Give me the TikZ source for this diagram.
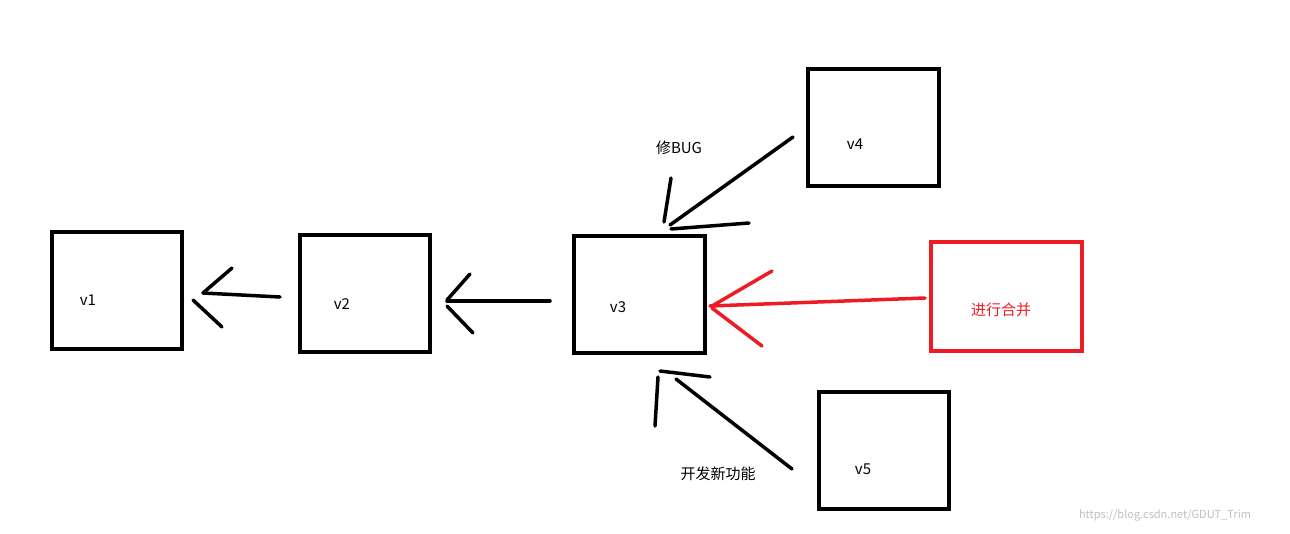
\documentclass[tikz,border=0pt]{standalone}
\usepackage{fontspec}
\setmainfont{Noto Sans CJK SC}
\definecolor{pred}{RGB}{237,28,36}
\begin{document}
\begin{tikzpicture}[x=1pt,y=-1pt,
  box/.style={draw=black,line width=3.5pt},
  stroke/.style={draw=black,line width=3.5pt,line cap=round},
  lbl/.style={font=\fontsize{15}{18}\selectfont,inner sep=0pt}]
\useasboundingbox[fill=white] (0,0) rectangle (1290,533);
\draw[box] (52,232) rectangle (182,349);
\draw[box] (300,235) rectangle (430,352);
\draw[box] (574,236) rectangle (705,353);
\draw[box] (808,69) rectangle (939,186);
\draw[box] (819,392) rectangle (949,509);
\draw[box,draw=pred] (931,242) rectangle (1082,351);
\node[lbl] (t1) at (88,300) {v1};
\node[lbl] (t2) at (342,304) {v2};
\node[lbl] (t3) at (618,307) {v3};
\node[lbl] (t4) at (855,144) {v4};
\node[lbl] (t5) at (863,469) {v5};
\node[lbl] (bug) at (679,148) {修BUG};
\node[lbl] (feat) at (718,474) {开发新功能};
\node[lbl,text=pred] (mg) at (1001,310) {进行合并};
\node[font=\fontsize{11}{13}\selectfont,text=black!25,inner sep=0pt] (wm) at (1165,515) {https://blog.csdn.net/GDUT\_Trim};
% v2 -> v1
\draw[stroke] (280,297) -- (203,293);
\draw[stroke] (232,268) -- (203,293);
\draw[stroke] (193,300) -- (222,327);
% v3 -> v2
\draw[stroke] (550,301) -- (447,301);
\draw[stroke] (470,274) -- (447,300);
\draw[stroke] (447,306) -- (473,333);
% v4 -> v3
\draw[stroke] (793,137) -- (670,225);
\draw[stroke] (671,178) -- (664,222);
\draw[stroke] (671,229) -- (749,223);
% merge -> v3
\draw[stroke,draw=pred] (925,298) -- (710,306);
\draw[stroke,draw=pred] (772,271) -- (712,306);
\draw[stroke,draw=pred] (712,308) -- (762,346);
% v5 -> v3
\draw[stroke] (792,469) -- (676,379);
\draw[stroke] (658,377) -- (655,426);
\draw[stroke] (660,371) -- (710,377);
\end{tikzpicture}
\end{document}
